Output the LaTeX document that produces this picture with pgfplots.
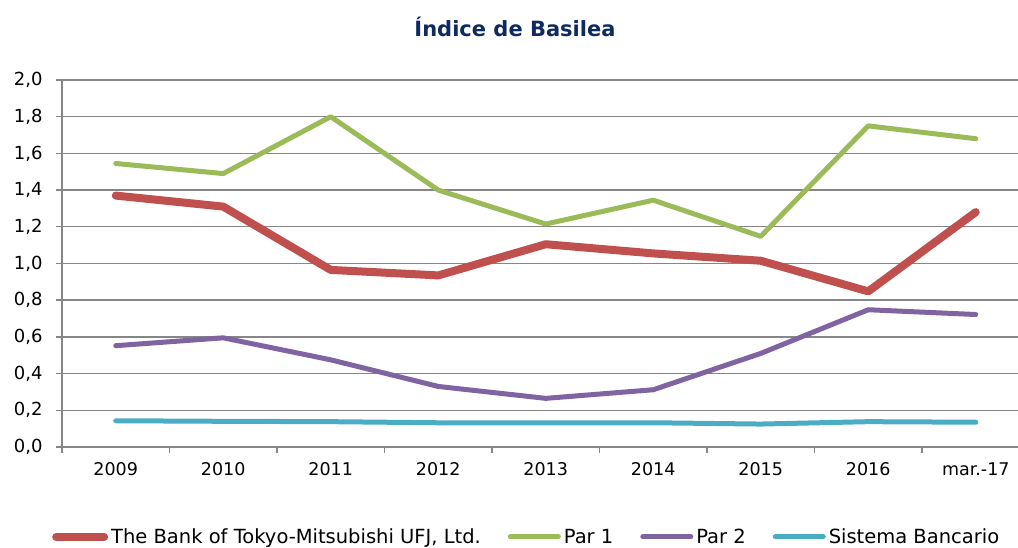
\documentclass[border=0pt]{standalone}
\usepackage{pgfplots}
\pgfplotsset{compat=1.18}
\usepackage{fontspec}
\setmainfont{DejaVu Sans}
\definecolor{cred}{HTML}{C0504D}
\definecolor{cgreen}{HTML}{9BBB59}
\definecolor{cpurple}{HTML}{8064A2}
\definecolor{cblue}{HTML}{4BACC6}
\definecolor{gridgray}{HTML}{868686}
\definecolor{titleblue}{HTML}{0F2A60}
\begin{document}
\begin{tikzpicture}
\clip (-62pt,-101pt) rectangle (956pt,447pt);
\begin{axis}[
  at={(0pt,0pt)}, anchor=south west,
  scale only axis, width=956pt, height=367pt,
  xmin=-0.5, xmax=8.393, ymin=0, ymax=2,
  axis x line*=bottom, axis y line*=left,
  axis line style={color=gridgray, line width=1.6pt},
  ymajorgrids, grid style={color=gridgray, line width=1.4pt},
  ytick={0,0.2,0.4,0.6,0.8,1.0,1.2,1.4,1.6,1.8,2.0},
  xtick={0,1,2,3,4,5,6,7,8},
  xticklabels={2009,2010,2011,2012,2013,2014,2015,2016,mar.-17},
  minor xtick={-0.5,0.5,1.5,2.5,3.5,4.5,5.5,6.5,7.5},
  major x tick style={draw=none},
  tick align=outside, major tick length=6pt, minor tick length=6pt,
  tick style={color=gridgray, line width=1.4pt},
  /pgf/number format/use comma,
  /pgf/number format/fixed,
  /pgf/number format/fixed zerofill,
  /pgf/number format/precision=1,
  /pgf/number format/assume math mode=true,
  tick label style={font=\fontsize{17.5}{21}\selectfont, color=black},
  yticklabel style={xshift=-10pt, font=\fontsize{18}{21}\selectfont},
  xticklabel style={yshift=-6pt},
  legend columns=4,
  legend style={at={(axis description cs:-0.0105,-0.245)}, anchor=west, draw=none, fill=none, inner sep=0pt,
    font=\fontsize{19.5}{23}\selectfont,
    /tikz/every even column/.append style={column sep=24pt},
    nodes={inner xsep=3pt, inner ysep=0pt}},
  legend image code/.code={\draw[#1] (0pt,0pt) -- (48pt,0pt);},
  every axis plot/.append style={line join=round, line cap=round},
]
\addplot[color=cred, line width=8pt] coordinates {(0,1.37) (1,1.31) (2,0.965) (3,0.935) (4,1.105) (5,1.055) (6,1.015) (7,0.848) (8,1.28)};
\addplot[color=cgreen, line width=5pt] coordinates {(0,1.545) (1,1.49) (2,1.80) (3,1.40) (4,1.215) (5,1.345) (6,1.148) (7,1.75) (8,1.68)};
\addplot[color=cpurple, line width=5pt] coordinates {(0,0.552) (1,0.595) (2,0.475) (3,0.33) (4,0.265) (5,0.312) (6,0.51) (7,0.748) (8,0.722)};
\addplot[color=cblue, line width=5pt] coordinates {(0,0.143) (1,0.14) (2,0.138) (3,0.132) (4,0.132) (5,0.132) (6,0.125) (7,0.138) (8,0.135)};
\legend{{The Bank of Tokyo-Mitsubishi UFJ, Ltd.},Par 1,Par 2,Sistema Bancario}
\end{axis}
\node[font=\bfseries\fontsize{21}{25}\selectfont, text=titleblue] at (453pt,420pt) {Índice de Basilea};
\end{tikzpicture}
\end{document}
